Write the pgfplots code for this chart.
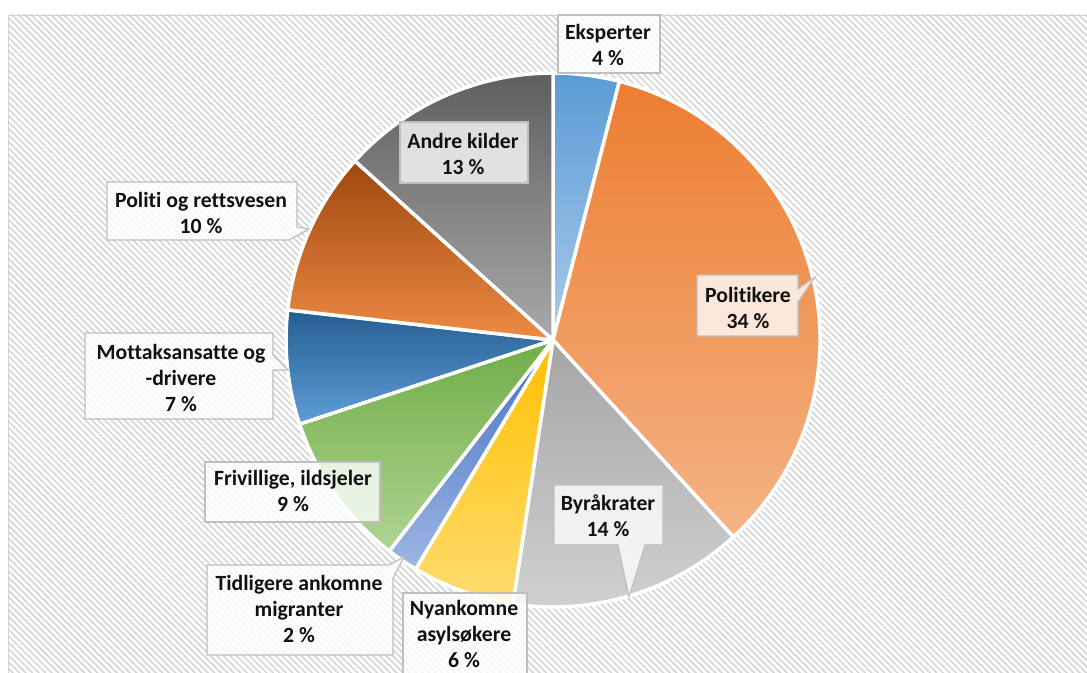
\documentclass[border=0pt]{standalone}
\usepackage{pgfplots}
\pgfplotsset{compat=1.18}
\usepackage{pgfplotstable}
\usetikzlibrary{patterns.meta}
\usepackage{fontspec}
\setmainfont{Carlito}[Ligatures=NoCommon]

\definecolor{top0}{HTML}{5B9BD5}\definecolor{bot0}{HTML}{A9CBEA}
\definecolor{top1}{HTML}{ED7D31}\definecolor{bot1}{HTML}{F4B385}
\definecolor{top2}{HTML}{A5A5A5}\definecolor{bot2}{HTML}{D2D2D2}
\definecolor{top3}{HTML}{FFC000}\definecolor{bot3}{HTML}{FFDC70}
\definecolor{top4}{HTML}{4472C4}\definecolor{bot4}{HTML}{9DB5E3}
\definecolor{top5}{HTML}{70AD47}\definecolor{bot5}{HTML}{AFD492}
\definecolor{top6}{HTML}{255E91}\definecolor{bot6}{HTML}{5E9DD6}
\definecolor{top7}{HTML}{9E480E}\definecolor{bot7}{HTML}{EE8A44}
\definecolor{top8}{HTML}{5F5F5F}\definecolor{bot8}{HTML}{A9A9A9}
\definecolor{hatch}{HTML}{D6D6D6}
\definecolor{boxline}{HTML}{BFBFBF}
\definecolor{txt}{HTML}{111111}

% share of each source, clockwise from 12 o'clock
\pgfplotstableread{
value
4.0
34.2
14.2
6.2
1.9
9.4
6.9
9.9
13.3
}\piedata
\pgfplotstablecreatecol[create col/expr accum={\pgfmathaccuma + \thisrow{value}}{0}]{cum}\piedata

\tikzset{callout/.style={fill=white, fill opacity=0.78, draw=boxline, line width=1.2bp, draw opacity=1},
  lbl/.style={align=center, font=\fontsize{21.8}{26}\selectfont\bfseries, text=txt, inner sep=0pt}}

\begin{document}
\begin{tikzpicture}
\begin{axis}[width=1087bp, height=673bp, scale only axis, xmin=0, xmax=1087, ymin=0, ymax=673,
  y dir=reverse, hide axis, clip=false, enlargelimits=false]
% background
\fill[white] (axis cs:8,15) rectangle (axis cs:1100,690);
\fill[pattern={Lines[angle=-45,distance=4.6bp,line width=1.7bp]}, pattern color=hatch] (axis cs:8,15) rectangle (axis cs:1100,690);
\draw[boxline!70, line width=1bp] (axis cs:1100,15.5) -- (axis cs:8.5,15.5) -- (axis cs:8.5,690);
% pie
\pgfplotsextra{
  \pgfplotstablegetrowsof{\piedata}
  \pgfmathtruncatemacro{\N}{\pgfplotsretval-1}
  \foreach \i in {0,...,\N}{
    \pgfplotstablegetelem{\i}{value}\of\piedata \let\v\pgfplotsretval
    \pgfplotstablegetelem{\i}{cum}\of\piedata \let\c\pgfplotsretval
    \pgfmathsetmacro{\sa}{90-3.6*(\c-\v)}
    \pgfmathsetmacro{\ea}{90-3.6*\c}
    \shade[top color=top\i, bottom color=bot\i, draw=white, line width=3.5bp, line join=round]
      (axis cs:553,340) -- ++(\sa:267bp) arc[start angle=\sa, end angle=\ea, radius=267bp] -- cycle;
  }
}
% callouts
\path[callout] (axis cs:558,15) -- (axis cs:660,15) -- (axis cs:660,73) -- (axis cs:558,73) -- cycle;
\node[lbl] at (axis cs:608,45) {Eksperter\\4 \%};
\path[callout] (axis cs:400,122) -- (axis cs:528,122) -- (axis cs:528,183) -- (axis cs:400,183) -- cycle;
\node[lbl] at (axis cs:463,154) {Andre kilder\\13 \%};
\path[callout] (axis cs:107,182) -- (axis cs:297,182) -- (axis cs:297,227) -- (axis cs:309,229) -- (axis cs:289,240) -- (axis cs:107,240) -- cycle;
\node[lbl] at (axis cs:201,213) {Politi og rettsvesen\\10 \%};
\path[callout] (axis cs:697,275) -- (axis cs:798,275) -- (axis cs:798,289) -- (axis cs:815,277) -- (axis cs:798,302) -- (axis cs:798,336) -- (axis cs:697,336) -- cycle;
\node[lbl] at (axis cs:748,308) {Politikere\\34 \%};
\path[callout] (axis cs:85,333) -- (axis cs:273,333) -- (axis cs:273,355) -- (axis cs:288,370) -- (axis cs:273,370) -- (axis cs:273,419) -- (axis cs:85,419) -- cycle;
\node[lbl] at (axis cs:181,378) {Mottaksansatte\ og\\-drivere\\7 \%};
\path[callout] (axis cs:205,462) -- (axis cs:380,462) -- (axis cs:380,522) -- (axis cs:205,522) -- cycle;
\node[lbl] at (axis cs:293,491) {Frivillige,\ ildsjeler\\9 \%};
\path[callout] (axis cs:554,485) -- (axis cs:663,485) -- (axis cs:663,545) -- (axis cs:645,545) -- (axis cs:629,597) -- (axis cs:618,545) -- (axis cs:554,545) -- cycle;
\node[lbl] at (axis cs:608,516) {Byråkrater\\14 \%};
\path[callout] (axis cs:207,565) -- (axis cs:389,565) -- (axis cs:404,557) -- (axis cs:393,578) -- (axis cs:393,655) -- (axis cs:207,655) -- cycle;
\node[lbl] at (axis cs:299,609) {Tidligere ankomne\\migranter\\2 \%};
\path[callout] (axis cs:403,593) -- (axis cs:527,593) -- (axis cs:527,700) -- (axis cs:403,700) -- cycle;
\node[lbl] at (axis cs:464,634) {Nyankomne\\asylsøkere\\6 \%};
\end{axis}
\pgfresetboundingbox
\useasboundingbox (0,0) rectangle (1087bp,673bp);
\end{tikzpicture}
\end{document}
